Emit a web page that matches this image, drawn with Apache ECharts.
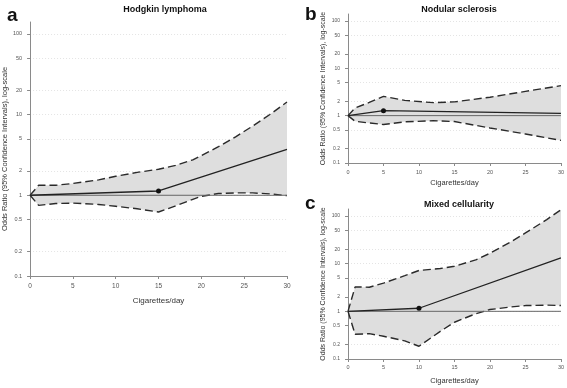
<!DOCTYPE html>
<html>
<head>
<meta charset="utf-8">
<script src="https://cdn.jsdelivr.net/npm/echarts@6/dist/echarts.min.js"></script>
<style>html,body{margin:0;background:#fff}#chart{width:567px;height:388px}</style>
</head>
<body>
<div id="chart"></div>
<script>
// y ticks (odds ratio, log-scale)
var yTicks = [0.1, 0.2, 0.5, 1, 2, 5, 10, 20, 50, 100];
var yMax = 140;
var refX = [0, 30];
var refY = [1, 1];

//a - Hodgkin lymphoma
var aX = [0, 1, 3, 5, 8, 10, 12.5, 15, 17, 19, 20, 22, 24, 26, 28, 30];
var aUpper = [1, 1.33, 1.33, 1.4, 1.55, 1.72, 1.92, 2.1, 2.35, 2.75, 3.1, 4.0, 5.3, 7.2, 10, 14.3];
var aLower = [1, 0.75, 0.79, 0.8, 0.77, 0.73, 0.68, 0.62, 0.74, 0.89, 0.97, 1.05, 1.07, 1.07, 1.04, 0.99];
var aEstX = [0, 15, 30];
var aEst = [1, 1.13, 3.7];

//b - Nodular sclerosis
var bX = [0, 1, 3, 5, 8, 12, 15, 20, 25, 30];
var bUpper = [1, 1.45, 1.9, 2.55, 2.1, 1.88, 1.95, 2.45, 3.25, 4.3];
var bLower = [1, 0.76, 0.7, 0.65, 0.74, 0.78, 0.75, 0.55, 0.41, 0.3];
var bEstX = [0, 5, 30];
var bEst = [1, 1.27, 1.12];

//c - Mixed cellularity
var cX = [0, 1, 3, 5, 8, 10, 13, 15, 18, 20, 23, 25, 28, 30];
var cUpper = [1, 3.25, 3.2, 3.9, 5.6, 7.2, 7.9, 8.8, 12, 16.5, 29, 44, 84, 135];
var cLower = [1, 0.33, 0.34, 0.3, 0.24, 0.185, 0.38, 0.59, 0.89, 1.09, 1.24, 1.32, 1.35, 1.32];
var cEstX = [0, 10, 30];
var cEst = [1, 1.16, 13.2];

var FONT = 'Liberation Sans, Arial, sans-serif';
var AXIS = '#8a8a8a';
var lg = function (v) { return Math.log10(v); };
var yTickPos = yTicks.map(lg);

function pairs(xs, ys) {
    return xs.map(function (x, k) { return [x, ys[k]]; });
}

function panelSeries(i, xs, lower, upper, estX, est) {
    var lowLog = lower.map(lg);
    var upLog = upper.map(lg);
    var dash = { color: '#2a2a2a', width: 1.4, type: [8, 4] };
    return [
        //置信区间阴影
        {
            type: 'custom', xAxisIndex: i, yAxisIndex: i, z: 1, silent: true,
            data: xs.map(function (x, k) { return [x, lowLog[k], upLog[k]]; }),
            encode: { x: 0, y: [1, 2] },
            renderItem: function (params, api) {
                if (params.dataIndex !== 0) return;
                var pts = [];
                for (var k = 0; k < xs.length; k++) pts.push(api.coord([xs[k], upLog[k]]));
                for (var k = xs.length - 1; k >= 0; k--) pts.push(api.coord([xs[k], lowLog[k]]));
                return { type: 'polygon', shape: { points: pts }, style: { fill: '#dedede' } };
            }
        },
        {
            type: 'line', xAxisIndex: i, yAxisIndex: i,
            data: pairs(xs, lowLog), symbol: 'none', lineStyle: dash, z: 3, silent: true
        },
        {
            type: 'line', xAxisIndex: i, yAxisIndex: i,
            data: pairs(xs, upLog), symbol: 'none', lineStyle: dash, z: 3, silent: true
        },
        {
            type: 'line', xAxisIndex: i, yAxisIndex: i,
            data: pairs(refX, refY.map(lg)), symbol: 'none',
            lineStyle: { color: '#666', width: 1 }, z: 4, silent: true
        },
        {
            type: 'line', xAxisIndex: i, yAxisIndex: i,
            data: pairs(estX, est.map(lg)), symbol: 'circle', showAllSymbol: true,
            symbolSize: function (v, p) { return p.dataIndex === 1 ? 5 : 0; },
            itemStyle: { color: '#111' },
            lineStyle: { color: '#222', width: 1.3 }, z: 5, silent: true
        }
    ];
}

function xAxisOf(i, labelSize, nameSize, nameGap, labelMargin) {
    return {
        type: 'value', gridIndex: i, min: 0, max: 30, interval: 5,
        name: 'Cigarettes/day', nameLocation: 'middle', nameGap: nameGap,
        nameTextStyle: { fontFamily: FONT, fontSize: nameSize, color: '#333' },
        axisLine: { onZero: false, lineStyle: { color: AXIS, width: 1 } },
        axisTick: { show: true, length: 3, lineStyle: { color: AXIS } },
        axisLabel: { fontFamily: FONT, fontSize: labelSize, color: '#555', margin: labelMargin },
        splitLine: { show: false }
    };
}

function yAxisOf(i, labelSize, nameSize, nameGap) {
    return {
        type: 'value', gridIndex: i, min: -1, max: lg(yMax),
        name: 'Odds Ratio (95% Confidence Intervals), log-scale',
        nameLocation: 'middle', nameGap: nameGap,
        nameTextStyle: { fontFamily: FONT, fontSize: nameSize, color: '#333' },
        axisLine: { show: true, onZero: false, lineStyle: { color: AXIS, width: 1 } },
        axisTick: { show: true, length: 3, customValues: yTickPos, lineStyle: { color: AXIS } },
        axisLabel: {
            fontFamily: FONT, fontSize: labelSize, color: '#555', margin: 8,
            customValues: yTickPos,
            formatter: function (v) { return String(+Math.pow(10, v).toPrecision(2)); }
        },
        splitLine: { show: true, lineStyle: { color: '#e4e4e4', type: [1, 2], width: 1 } }
    };
}

var myChart = echarts.init(document.getElementById('chart'), null, { renderer: 'canvas' });
myChart.setOption({
    animation: false,
    backgroundColor: '#fff',
    title: [
        { text: 'Hodgkin lymphoma', left: 160, top: 0, textAlign: 'center',
          textStyle: { fontFamily: FONT, fontSize: 9, fontWeight: 'bold', color: '#111' } },
        { text: 'Nodular sclerosis', left: 454, top: 0, textAlign: 'center',
          textStyle: { fontFamily: FONT, fontSize: 9, fontWeight: 'bold', color: '#111' } },
        { text: 'Mixed cellularity', left: 454, top: 195, textAlign: 'center',
          textStyle: { fontFamily: FONT, fontSize: 9, fontWeight: 'bold', color: '#111' } },
        { text: 'a', left: 2, top: 1, textStyle: { fontFamily: FONT, fontSize: 19, fontWeight: 'bold', color: '#111' } },
        { text: 'b', left: 300, top: 0, textStyle: { fontFamily: FONT, fontSize: 19, fontWeight: 'bold', color: '#111' } },
        { text: 'c', left: 300, top: 189, textStyle: { fontFamily: FONT, fontSize: 19, fontWeight: 'bold', color: '#111' } }
    ],
    grid: [
        { left: 30, right: 280, top: 22, bottom: 112 },
        { left: 348, right: 4, top: 14, bottom: 225 },
        { left: 348, right: 4, top: 209, bottom: 29 }
    ],
    xAxis: [
        xAxisOf(0, 6.5, 8, 21, 7),
        xAxisOf(1, 5.5, 7.5, 16, 6),
        xAxisOf(2, 5.5, 7.5, 18, 5)
    ],
    yAxis: [
        yAxisOf(0, 5.5, 7.5, 15),
        yAxisOf(1, 5, 7, 21),
        yAxisOf(2, 5, 7, 21)
    ],
    series: [].concat(
        panelSeries(0, aX, aLower, aUpper, aEstX, aEst),
        panelSeries(1, bX, bLower, bUpper, bEstX, bEst),
        panelSeries(2, cX, cLower, cUpper, cEstX, cEst)
    )
});
</script>
</body>
</html>
